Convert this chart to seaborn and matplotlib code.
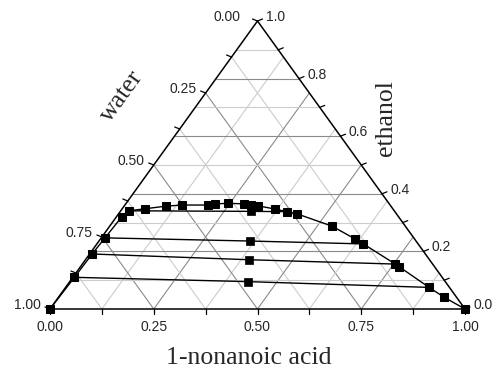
import numpy as np
import pandas as pd
import matplotlib
matplotlib.use("Agg")
import matplotlib.pyplot as plt
import seaborn as sns

# ---- data (mass fractions: acid = 1-nonanoic acid, ethanol) ----
curve_acid = [0.000, 0.004, 0.006, 0.009, 0.013, 0.020, 0.055, 0.100, 0.138,
              0.201, 0.215, 0.246, 0.285, 0.304, 0.323, 0.369, 0.402, 0.431,
              0.535, 0.614, 0.642, 0.754, 0.769, 0.876, 0.929, 1.000]
curve_ethanol = [0.000, 0.110, 0.191, 0.247, 0.321, 0.341, 0.348, 0.357, 0.361,
                 0.361, 0.365, 0.367, 0.365, 0.361, 0.358, 0.347, 0.338, 0.330,
                 0.288, 0.243, 0.226, 0.156, 0.146, 0.075, 0.041, 0.000]

feed_acid = [0.314, 0.364, 0.395, 0.430]
feed_ethanol = [0.339, 0.236, 0.171, 0.095]

tie_acid = [[0.020, 0.314, 0.402],
            [0.009, 0.364, 0.642],
            [0.006, 0.395, 0.754],
            [0.004, 0.430, 0.876]]
tie_ethanol = [[0.341, 0.339, 0.338],
               [0.247, 0.236, 0.226],
               [0.191, 0.171, 0.156],
               [0.110, 0.095, 0.075]]

acid_ticks = [0.0, 0.25, 0.5, 0.75, 1.0]
acid_labels = ["0.00", "0.25", "0.50", "0.75", "1.00"]
water_ticks = [0.0, 0.25, 0.5, 0.75, 1.0]
water_labels = ["0.00", "0.25", "0.50", "0.75", "1.00"]
ethanol_ticks = [0.0, 0.2, 0.4, 0.6, 0.8, 1.0]
ethanol_labels = ["0.0", "0.2", "0.4", "0.6", "0.8", "1.0"]

# ---- helpers ----
def tx(a, e):
    a = np.asarray(a, float); e = np.asarray(e, float)
    return a + e / 2.0, e

sns.set_style("white")
plt.rcParams['font.family'] = ['Liberation Sans', 'DejaVu Sans']

W, H = 496, 367
fig = plt.figure(figsize=(W / 100, H / 100), dpi=100)
x0, ybot, tw, th = 50, 309, 415, 288
ax = fig.add_axes([x0 / W, (H - ybot) / H, tw / W, th / H])
ax.set_xlim(0, 1)
ax.set_ylim(0, 1)
ax.axis('off')
PX, PY = 1.0 / tw, 1.0 / th

major_c, minor_c = '#8a8a8a', '#cccccc'
# grid: constant acid & constant water (0.125 step)
for k in range(1, 8):
    c = k / 8
    col = major_c if k % 2 == 0 else minor_c
    ax.plot([c, c + (1 - c) / 2], [0, 1 - c], color=col, lw=0.8, zorder=1)
    ax.plot([1 - c, (1 - c) / 2], [0, 1 - c], color=col, lw=0.8, zorder=1)
# grid: constant ethanol (0.1 step)
for k in range(1, 10):
    e = k / 10
    col = major_c if k % 2 == 0 else minor_c
    ax.plot([e / 2, 1 - e / 2], [e, e], color=col, lw=0.8, zorder=1)

# triangle edges
ax.plot([0, 1, 0.5, 0], [0, 0, 1, 0], color='k', lw=1.1, zorder=3,
        clip_on=False, solid_joinstyle='miter')

tick_kw = dict(color='k', lw=0.9, clip_on=False, zorder=3)
# bottom ticks (acid)
for k in range(0, 9):
    a = k / 8
    ax.plot([a, a], [0, -5 * PY], **tick_kw)
for a, lab in zip(acid_ticks, acid_labels):
    ax.text(a, -17.7 * PY, lab, ha='center', va='center', fontsize=10)
# left ticks (water)
for k in range(0, 9):
    w = k / 8
    x, y = (1 - w) / 2, 1 - w
    ax.plot([x, x - 5 * PX], [y, y + 2 * PY], **tick_kw)
for w, lab in zip(water_ticks, water_labels):
    x, y = (1 - w) / 2, 1 - w
    dx = 17 if w == 0 else 9
    ax.text(x - dx * PX, y + 4 * PY, lab, ha='right', va='center', fontsize=10)
# right ticks (ethanol)
for k in range(0, 11):
    e = k / 10
    x, y = 1 - e / 2, e
    ax.plot([x, x + 5 * PX], [y, y + 2 * PY], **tick_kw)
for e, lab in zip(ethanol_ticks, ethanol_labels):
    x, y = 1 - e / 2, e
    ax.text(x + 8.5 * PX, y + 4 * PY, lab, ha='left', va='center', fontsize=10)

# ---- data ----
cx, cy = tx(curve_acid, curve_ethanol)
curve_df = pd.DataFrame({'x': cx, 'y': cy})
sns.lineplot(data=curve_df, x='x', y='y', sort=False, estimator=None, ax=ax,
             color='k', lw=1.0, marker='s', markersize=5.2,
             markeredgecolor='k', markerfacecolor='k', zorder=5, clip_on=False)

for ta, te in zip(tie_acid, tie_ethanol):
    txx, tyy = tx(ta, te)
    sns.lineplot(x=txx, y=tyy, sort=False, estimator=None, ax=ax,
                 color='k', lw=1.0, zorder=4)

fx, fy = tx(feed_acid, feed_ethanol)
sns.scatterplot(x=fx, y=fy, ax=ax, color='k', marker='s', s=27,
                edgecolor='k', linewidth=0.5, zorder=6)

ax.set_xlim(0, 1)
ax.set_ylim(0, 1)
ax.axis('off')

serif = ['Liberation Serif', 'DejaVu Serif']
fig.text(249 / W, 1 - 363.5 / H, '1-nonanoic acid', ha='center', va='baseline',
         fontsize=18.5, family=serif)
fig.text(122 / W, 1 - 96 / H, 'water', ha='center', va='center',
         rotation=54.2, rotation_mode='anchor', fontsize=18.5, family=serif)
fig.text(386 / W, 1 - 118 / H, 'ethanol', ha='center', va='center',
         rotation=90, rotation_mode='anchor', fontsize=18.5, family=serif)

fig.savefig('out.png', dpi=100)
